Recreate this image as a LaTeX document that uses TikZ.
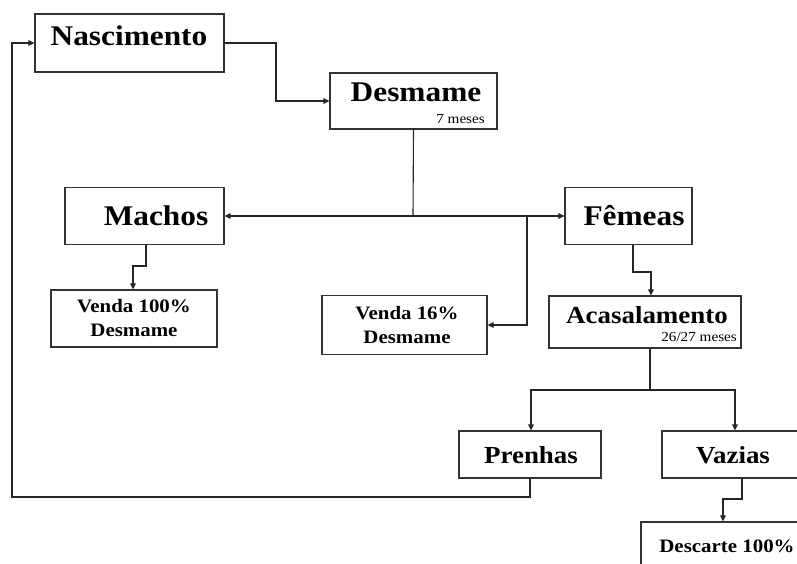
\documentclass[tikz,border=0pt]{standalone}
\usepackage{fontspec}
\setmainfont{Liberation Serif}[FakeStretch=1.1]
\usetikzlibrary{arrows.meta,calc}
\begin{document}
\begin{tikzpicture}[x=1pt,y=-1pt,
  box/.style={draw=black!80,line width=1.1pt,rectangle,inner sep=0pt},
  big/.style={font=\bfseries\fontsize{28.5}{31}\selectfont,inner sep=0pt},
  mid/.style={font=\bfseries\fontsize{24.5}{27}\selectfont,inner sep=0pt},
  sml/.style={font=\bfseries\fontsize{19}{24}\selectfont,align=center,inner sep=0pt},
  note/.style={font=\fontsize{13.8}{15}\selectfont,inner sep=0pt,anchor=east},
  conn/.style={draw=black!85,line width=1.1pt},
  arr/.style={conn,-{Triangle[length=6pt,width=5.5pt]}}]
\useasboundingbox[fill=white] (0,0) rectangle (797,563);
% boxes
\node[box,minimum width=189pt,minimum height=58pt] (nasc) at (129.5,43) {};
\node[box,minimum width=167pt,minimum height=56pt] (desm) at (413.5,101) {};
\node[box,minimum width=159pt,minimum height=57pt] (mach) at (144.5,216) {};
\node[box,minimum width=127pt,minimum height=57pt] (feme) at (628.5,216) {};
\node[box,minimum width=166pt,minimum height=57pt] (v100) at (134,318.5) {};
\node[box,minimum width=165pt,minimum height=59pt] (v16) at (404.5,325) {};
\node[box,minimum width=192pt,minimum height=52pt] (acas) at (645,322) {};
\node[box,minimum width=142pt,minimum height=47pt] (pren) at (530,454.5) {};
\node[box,minimum width=140pt,minimum height=47pt] (vaz) at (732,454.5) {};
\node[box,minimum width=160pt,minimum height=50pt] (desc) at (721,547) {};
% texts
\node[big] (tnasc) at (129,36) {Nascimento};
\node[big] (tdesm) at (416,92) {Desmame};
\node[note] (mdesm) at (485,119) {7 meses};
\node[big] (tmach) at (156,216) {Machos};
\node[big] (tfeme) at (634,216) {Fêmeas};
\node[sml] (tv100) at (134,318) {Venda 100\%\\Desmame};
\node[sml] (tv16) at (407,325) {Venda 16\%\\Desmame};
\node[mid] (tacas) at (647,315) {Acasalamento};
\node[note] (macas) at (737,337) {26/27 meses};
\node[mid] (tpren) at (531,455) {Prenhas};
\node[mid] (tvaz) at (733,455) {Vazias};
\node[sml] (tdesc) at (727,546) {Descarte 100\%};
% junction coordinates
\coordinate (j1) at (413,216);
\coordinate (j2) at (527,216);
\coordinate (j3) at (650,390);
% connectors
\draw[arr] (nasc.east) -- (276,43) |- (desm.west);
\draw[conn] (desm.south) -- (j1);
\draw[arr] (j1) -- (mach.east);
\draw[arr] (j1) -- (feme.west);
\draw[arr] (j2) |- (v16.east);
\draw[arr] (mach.south -| 146,0) -- (146,266) -| (v100.north -| 133,0);
\draw[arr] (feme.south -| 633,0) -- (633,272) -| (acas.north -| 651,0);
\draw[conn] (acas.south -| j3) -- (j3);
\draw[arr] (j3) -| (pren.north -| 531,0);
\draw[arr] (j3) -| (vaz.north -| 735,0);
\draw[arr] (pren.south) -- (530,497) -| (12,43) -- (nasc.west);
\draw[arr] (vaz.south -| 742,0) -- (742,499) -| (desc.north -| 723,0);
\end{tikzpicture}
\end{document}
